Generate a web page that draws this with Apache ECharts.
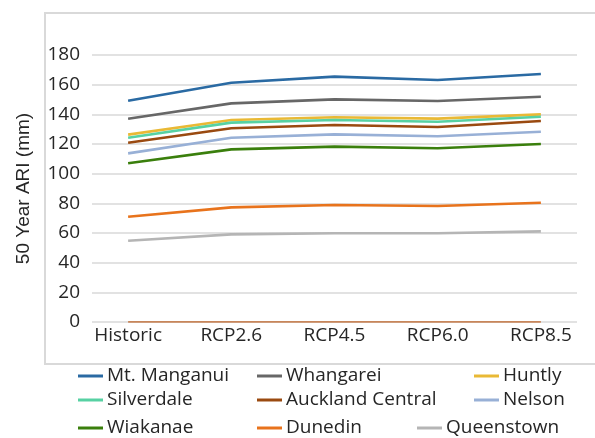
<!DOCTYPE html>
<html><head><meta charset="utf-8">
<script src="https://cdn.jsdelivr.net/npm/echarts@6/dist/echarts.min.js"></script>
<style>html,body{margin:0;padding:0;background:#fff}#c{width:595px;height:438px}</style>
</head><body><div id="c"></div>
<script>
const categories = ['Historic','RCP2.6','RCP4.5','RCP6.0','RCP8.5'];
const yTicks = [0,20,40,60,80,100,120,140,160,180];
const mtManganui = [149.2,161.3,165.4,163.1,167.2];
const whangarei = [137.0,147.4,150.1,149.0,151.9];
const huntly = [126.3,136.2,138.0,137.1,140.0];
const silverdale = [124.2,134.4,136.2,135.0,138.4];
const aucklandCentral = [120.9,130.6,132.8,131.5,135.5];
const nelson = [113.7,124.2,126.5,125.2,128.3];
const wiakanae = [107.0,116.4,118.2,117.1,120.0];
const dunedin = [71.0,77.3,78.9,78.2,80.4];
const queenstown = [54.8,59.1,59.8,59.8,61.1];
const baseline = [0,0,0,0,0];

const seriesDefs = [
  {name:'Mt. Manganui', data: mtManganui, color:'#2a6aa3'},
  {name:'Whangarei', data: whangarei, color:'#676767'},
  {name:'Huntly', data: huntly, color:'#e9b935'},
  {name:'Silverdale', data: silverdale, color:'#57d1a3'},
  {name:'Auckland Central', data: aucklandCentral, color:'#9a4a10'},
  {name:'Nelson', data: nelson, color:'#98b0d6'},
  {name:'Wiakanae', data: wiakanae, color:'#3a7f0c'},
  {name:'Dunedin', data: dunedin, color:'#e8731c'},
  {name:'Queenstown', data: queenstown, color:'#b5b5b5'}
];
const legendPos = {
  'Mt. Manganui':[78,366], 'Whangarei':[257,366], 'Huntly':[474,366],
  'Silverdale':[78,390], 'Auckland Central':[257,390], 'Nelson':[474,390],
  'Wiakanae':[78,418], 'Dunedin':[257,418], 'Queenstown':[417,418]
};
const font = '"Open Sans", "Noto Sans", sans-serif';
const series = seriesDefs.map(s => ({
  name: s.name, type:'line', symbol:'none', smooth:false,
  data: s.data.map((v,i)=>[i,v]),
  lineStyle:{color:s.color,width:2.6}, itemStyle:{color:s.color}
}));
series.push({name:'zero', type:'line', symbol:'none', data: baseline.map((v,i)=>[i,v]),
  lineStyle:{color:'#c0682e',width:1.5}, itemStyle:{color:'#c0682e'}, z:3});
const legends = seriesDefs.map(s => ({
  data:[s.name], left:legendPos[s.name][0], top:legendPos[s.name][1], padding:0,
  icon:'rect', itemWidth:25, itemHeight:3, itemGap:0,
  textStyle:{fontFamily:font,fontSize:19,color:'#262626',lineHeight:20, padding:[0,0,0,-1]}
}));
const chart = echarts.init(document.getElementById('c'));
chart.setOption({
  animation:false,
  graphic:[{type:'rect', shape:{x:45,y:13,width:580,height:351}, style:{fill:'none',stroke:'#d9d9d9',lineWidth:2}, silent:true}],
  grid:{left:92,right:18,top:55,bottom:116,containLabel:false},
  legend: legends,
  xAxis:{type:'value', min:-0.35, max:4.35,
    axisLine:{show:false}, axisTick:{show:false}, splitLine:{show:false},
    axisLabel:{customValues:[0,1,2,3,4], formatter:v=>categories[Math.round(v)], fontFamily:font, fontSize:19, color:'#262626', margin:4}},
  yAxis:{type:'value', min:yTicks[0], max:yTicks[yTicks.length-1], interval:20,
    name:'50 Year ARI (mm)', nameLocation:'middle', nameGap:59,
    nameTextStyle:{fontFamily:'"Liberation Sans", Arial, sans-serif', fontSize:19, color:'#262626'},
    axisLine:{show:false}, axisTick:{show:false},
    splitLine:{lineStyle:{color:'#d9d9d9',width:1.5}},
    axisLabel:{fontFamily:font,fontSize:19,color:'#262626',margin:12}},
  series: series
});
</script></body></html>
